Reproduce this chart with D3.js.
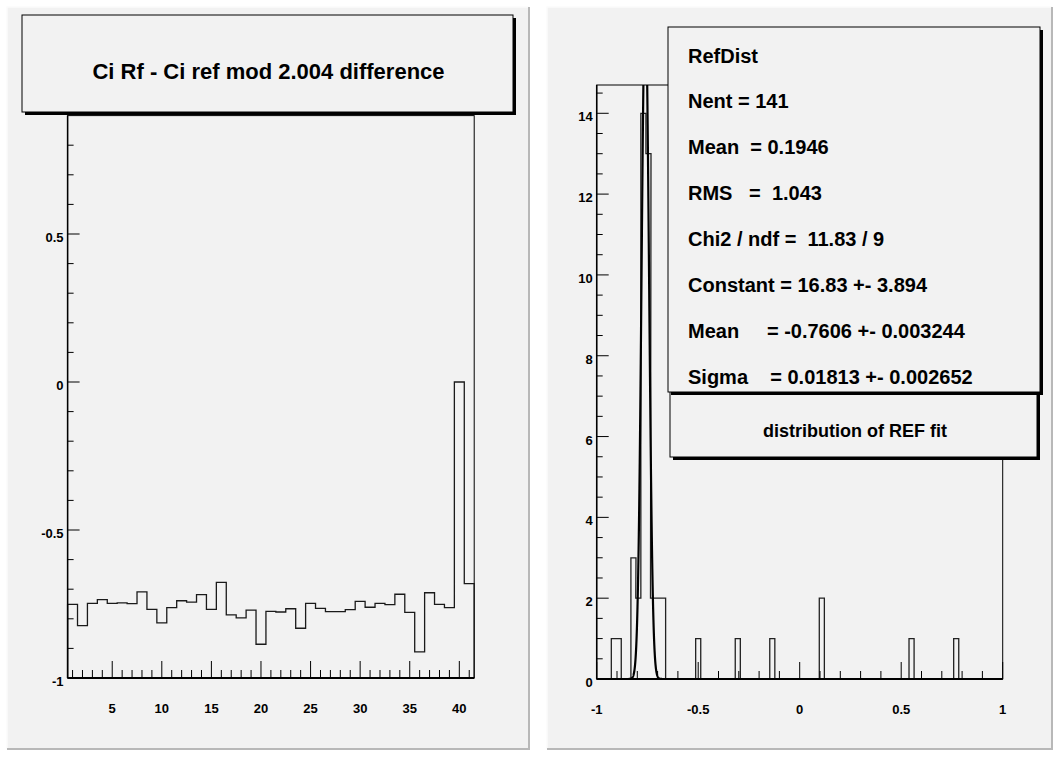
<!DOCTYPE html>
<html>
<head>
<meta charset="utf-8">
<script src="https://cdn.jsdelivr.net/npm/d3@7/dist/d3.min.js"></script>
<style>
  body { margin: 0; background: #fff; }
  svg text { font-family: "Liberation Sans", Arial, Helvetica, sans-serif; font-weight: bold; fill: #000; }
</style>
</head>
<body>
<svg id="canvas" width="1056" height="757"></svg>
<script>
// left pad: Ci Rf - Ci ref difference, one bin per channel
var diffBins   = [1,2,3,4,5,6,7,8,9,10,11,12,13,14,15,16,17,18,19,20,21,22,23,24,25,26,27,28,29,30,31,32,33,34,35,36,37,38,39,40,41];
var diffValues = [-0.751,-0.823,-0.748,-0.735,-0.748,-0.746,-0.749,-0.709,-0.768,-0.814,
                  -0.762,-0.739,-0.744,-0.718,-0.768,-0.677,-0.787,-0.797,-0.771,-0.886,
                  -0.775,-0.777,-0.766,-0.832,-0.748,-0.765,-0.776,-0.776,-0.769,-0.741,
                  -0.761,-0.748,-0.752,-0.717,-0.778,-0.912,-0.712,-0.751,-0.762,0,-0.681];
var diffXTicks = [5,10,15,20,25,30,35,40];
var diffYTicks = [-1,-0.5,0,0.5];

// right pad: RefDist histogram (non empty bins only), bin width 0.025
var refCenters  = [-0.9155,-0.8915,-0.819,-0.795,-0.77,-0.745,-0.7225,-0.698,-0.673,-0.5,-0.305,-0.135,0.109,0.551,0.771];
var refCounts   = [1,1,3,2,14,13,2,2,2,1,1,1,2,1,1];
var refBinWidth = 0.025;
var refXTicks   = [-1,-0.5,0,0.5,1];
var refYTicks   = [0,2,4,6,8,10,12,14];

// gaus fit
var fitConstant = 16.83, fitMean = -0.7606, fitSigma = 0.01813;
var fitRange    = [-1, -0.25];

var statLines = [
  "RefDist",
  "Nent = 141",
  "Mean  = 0.1946",
  "RMS   =  1.043",
  "Chi2 / ndf =  11.83 / 9",
  "Constant = 16.83 +- 3.894",
  "Mean     = -0.7606 +- 0.003244",
  "Sigma    = 0.01813 +- 0.002652"
];

var svg = d3.select("#canvas");

function drawPad(x0, y0, x1, y1){
  svg.append("rect").attr("x", x0).attr("y", y0).attr("width", x1-x0).attr("height", y1-y0)
    .style("fill", "#f2f2f2");
  svg.append("path").attr("d", "M"+x0+","+y1+"V"+y0+"H"+x1)
    .style("fill","none").style("stroke","#fbfbfb").style("stroke-width",1.5);
  svg.append("path").attr("d", "M"+x0+","+y1+"H"+x1+"V"+y0)
    .style("fill","none").style("stroke","#b8b8b8").style("stroke-width",2);
}

function drawBox(x0, y0, x1, y1){
  // shadowed text box like a TPaveText
  svg.append("rect").attr("x", x0+3).attr("y", y0+3).attr("width", x1-x0).attr("height", y1-y0)
    .style("fill", "#000");
  svg.append("rect").attr("x", x0).attr("y", y0).attr("width", x1-x0).attr("height", y1-y0)
    .style("fill", "#f2f2f2").style("stroke", "#000").style("stroke-width", 1);
}

// ticks drawn inward like ROOT
function drawTicks(g, x, y, xMajor, xMinor, yMajor, yMinor, fmtX, fmtY){
  var y0 = y.range()[0], x0 = x.range()[0];
  g.selectAll(".xminor").data(xMinor).enter().append("line")
    .attr("x1", x).attr("x2", x).attr("y1", y0).attr("y2", y0-8)
    .style("stroke","#000").style("stroke-width",1);
  g.selectAll(".xmajor").data(xMajor).enter().append("line")
    .attr("x1", x).attr("x2", x).attr("y1", y0).attr("y2", y0-17)
    .style("stroke","#000").style("stroke-width",1);
  g.selectAll(".yminor").data(yMinor).enter().append("line")
    .attr("y1", y).attr("y2", y).attr("x1", x0).attr("x2", x0+6)
    .style("stroke","#000").style("stroke-width",1);
  g.selectAll(".ymajor").data(yMajor).enter().append("line")
    .attr("y1", y).attr("y2", y).attr("x1", x0).attr("x2", x0+12)
    .style("stroke","#000").style("stroke-width",1);
  g.selectAll(".xlab").data(xMajor).enter().append("text")
    .attr("x", x).attr("y", y0+35).attr("text-anchor","middle").style("font-size","13px")
    .text(fmtX);
  g.selectAll(".ylab").data(yMajor).enter().append("text")
    .attr("x", x0-4).attr("y", function(d){ return y(d)+8; }).attr("text-anchor","end").style("font-size","13px")
    .text(fmtY);
}

function drawLeft(){
  var x = d3.scaleLinear().domain([0.5, 41.5]).range([67.6, 474.2]);
  var y = d3.scaleLinear().domain([-1, 0.9]).range([678, 115.6]);
  var g = svg.append("g");

  // frame
  g.append("rect").attr("x", x(0.5)).attr("y", y(0.9)).attr("width", x(41.5)-x(0.5)).attr("height", y(-1)-y(0.9))
    .style("fill","none").style("stroke","#000").style("stroke-width",1);

  // step outline of the histogram
  var pts = [[diffBins[0]-0.5, -1]];
  diffBins.forEach(function(b, i){
    pts.push([b-0.5, diffValues[i]]);
    pts.push([b+0.5, diffValues[i]]);
  });
  pts.push([diffBins[diffBins.length-1]+0.5, -1]);
  var line = d3.line().x(function(d){ return x(d[0]); }).y(function(d){ return y(d[1]); });
  g.append("path").datum(pts).attr("d", line)
    .style("fill","none").style("stroke","#1a1a1a").style("stroke-width",1.3);

  // axes lines
  g.append("line").attr("x1", x(0.5)).attr("x2", x(41.5)).attr("y1", y(-1)).attr("y2", y(-1))
    .style("stroke","#000").style("stroke-width",2);
  g.append("line").attr("x1", x(0.5)).attr("x2", x(0.5)).attr("y1", y(-1)).attr("y2", y(0.9))
    .style("stroke","#000").style("stroke-width",1.5);

  var xMinor = d3.range(1, 42).filter(function(v){ return v % 5 !== 0; });
  var yMinor = d3.range(-9, 9).map(function(v){ return v/10; }).filter(function(v){ return Math.abs(v*2 - Math.round(v*2)) > 1e-6; });
  drawTicks(g, x, y, diffXTicks, xMinor, diffYTicks, yMinor,
    function(d){ return d; }, function(d){ return d; });

  drawBox(22, 15, 513, 112);
  svg.append("text").attr("x", 268.5).attr("y", 78.5).attr("text-anchor","middle")
    .style("font-size","22px").text("Ci Rf - Ci ref mod 2.004 difference");
}

function drawRight(){
  var x = d3.scaleLinear().domain([-1, 1]).range([596.7, 1002.7]);
  var y = d3.scaleLinear().domain([0, 14.7]).range([679, 85]);
  var g = svg.append("g");

  g.append("defs").append("clipPath").attr("id","frameClip").append("rect")
    .attr("x", x(-1)).attr("y", y(14.7)).attr("width", x(1)-x(-1)).attr("height", y(0)-y(14.7));

  g.append("rect").attr("x", x(-1)).attr("y", y(14.7)).attr("width", x(1)-x(-1)).attr("height", y(0)-y(14.7))
    .style("fill","none").style("stroke","#000").style("stroke-width",1);

  // histogram outline, dropping to zero between separated bins
  var pts = [[-1, 0]];
  refCenters.forEach(function(c, i){
    var lo = c - refBinWidth/2, hi = c + refBinWidth/2;
    var last = pts[pts.length-1];
    if (Math.abs(last[0] - lo) > 0.004) {
      pts.push([last[0], 0]);
      pts.push([lo, 0]);
    }
    pts.push([lo, refCounts[i]]);
    pts.push([hi, refCounts[i]]);
  });
  var end = pts[pts.length-1];
  pts.push([end[0], 0]);
  pts.push([1, 0]);
  var line = d3.line().x(function(d){ return x(d[0]); }).y(function(d){ return y(d[1]); });
  g.append("path").datum(pts).attr("d", line)
    .style("fill","none").style("stroke","#222").style("stroke-width",1.3);

  // gaussian fit curve
  var fx = d3.range(fitRange[0], fitRange[1] + 1e-9, 0.0005);
  var fit = fx.map(function(v){
    return [v, fitConstant * Math.exp(-0.5 * Math.pow((v - fitMean) / fitSigma, 2))];
  });
  g.append("path").datum(fit).attr("d", line).attr("clip-path","url(#frameClip)")
    .style("fill","none").style("stroke","#000").style("stroke-width",2.2);

  g.append("line").attr("x1", x(-1)).attr("x2", x(1)).attr("y1", y(0)).attr("y2", y(0))
    .style("stroke","#000").style("stroke-width",2);
  g.append("line").attr("x1", x(-1)).attr("x2", x(-1)).attr("y1", y(0)).attr("y2", y(14.7))
    .style("stroke","#000").style("stroke-width",1.5);

  var xMinor = d3.range(-10, 11).map(function(v){ return v/10; }).filter(function(v){ return Math.abs(v*2 - Math.round(v*2)) > 1e-6; });
  var yMinor = d3.range(1, 30, 2).map(function(v){ return v/2; }).concat(d3.range(1, 15, 2));
  drawTicks(g, x, y, refXTicks, xMinor, refYTicks, yMinor,
    function(d){ return d; }, function(d){ return d; });

  // title pave, then stats pave on top of it
  drawBox(670, 380, 1037, 457);
  svg.append("text").attr("x", 855).attr("y", 437).attr("text-anchor","middle")
    .style("font-size","18px").text("distribution of REF fit");

  drawBox(668, 27, 1040, 392);
  var ly = d3.scaleLinear().domain([0, 7]).range([62.5, 383.5]);
  svg.append("g").selectAll("text").data(statLines).enter().append("text")
    .attr("x", 688).attr("y", function(d, i){ return ly(i); })
    .attr("xml:space","preserve").style("white-space","pre")
    .style("font-size","20px").text(function(d){ return d; });
}

drawPad(7, 7, 529, 749);
drawPad(547, 7, 1052, 749);
drawLeft();
drawRight();
</script>
</body>
</html>
